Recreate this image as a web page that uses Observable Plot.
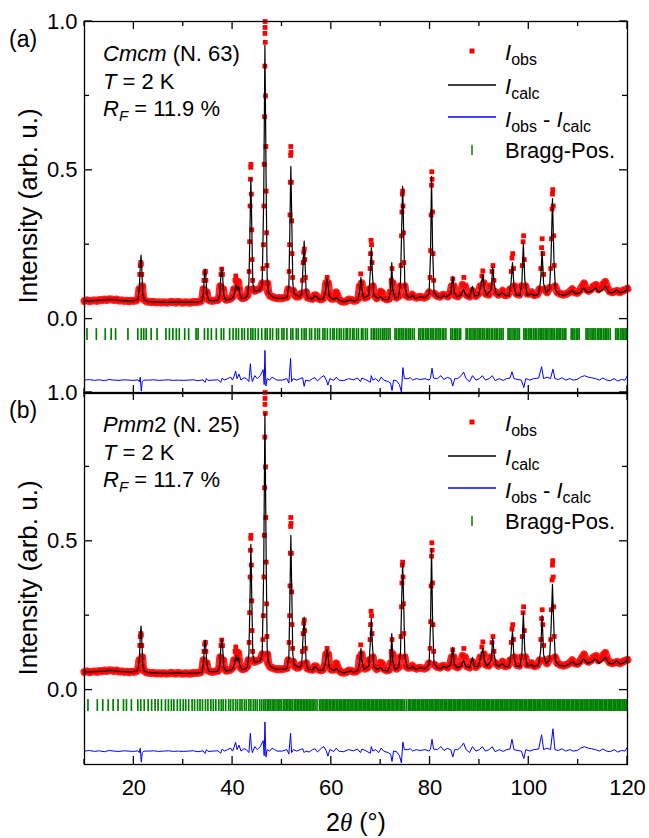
<!DOCTYPE html>
<html><head><meta charset="utf-8">
<script src="https://cdn.jsdelivr.net/npm/d3@7"></script>
<script src="https://cdn.jsdelivr.net/npm/@observablehq/plot@0.6"></script>
<style>
body{margin:0;background:#fff;}
#wrap{position:relative;width:649px;height:838px;font-family:"Liberation Sans",Arial,sans-serif;overflow:hidden;}
#wrap svg{position:absolute;left:0;overflow:visible;}
.ylab{position:absolute;left:28px;font-size:26px;white-space:nowrap;transform:translate(-50%,-50%) rotate(-90deg);}
.xlab{position:absolute;left:356px;top:822px;font-size:25px;white-space:nowrap;transform:translate(-50%,-50%);}
</style></head><body><div id="wrap"></div>
<script>
// ---------------- data ----------------
const xTicksMajor = [20, 40, 60, 80, 100, 120];
const xTicksMinor = [10, 30, 50, 70, 90, 110];
const yTicksMajor = [0, 0.5, 1.0];
const yTicksMinor = [0.25, 0.75];

// calculated profile, panel (a)
const calcA = [[10,0.062],[11,0.061],[12,0.062],[13,0.063],[14,0.064],[15,0.066],[16,0.065],[17,0.063],[18,0.062],[19,0.061],[20,0.062],[20.8,0.066],[21.1,0.10],[21.3,0.18],[21.45,0.215],[21.6,0.17],[21.8,0.09],[22.1,0.064],[23,0.059],[24,0.058],[25,0.057],[26,0.056],[27,0.056],[28,0.057],[29,0.058],[30,0.056],[31,0.056],[32,0.057],[33,0.058],[33.8,0.060],[34.1,0.09],[34.3,0.15],[34.45,0.168],[34.6,0.14],[34.8,0.085],[35.2,0.063],[36,0.062],[37,0.063],[37.4,0.08],[37.6,0.14],[37.8,0.172],[38.0,0.14],[38.2,0.08],[38.6,0.064],[39.4,0.066],[40.0,0.07],[40.4,0.09],[40.7,0.115],[40.9,0.10],[41.2,0.11],[41.4,0.09],[41.8,0.07],[42.5,0.07],[43.0,0.078],[43.3,0.12],[43.5,0.28],[43.7,0.473],[43.9,0.30],[44.1,0.12],[44.4,0.095],[45,0.095],[45.6,0.098],[46.0,0.12],[46.3,0.40],[46.55,0.92],[46.8,0.45],[47.0,0.14],[47.3,0.09],[48,0.075],[49,0.07],[50,0.07],[51,0.072],[51.4,0.11],[51.6,0.30],[51.8,0.513],[52.0,0.32],[52.2,0.12],[52.5,0.085],[53.5,0.075],[54.0,0.085],[54.3,0.19],[54.5,0.262],[54.7,0.18],[54.9,0.09],[55.3,0.07],[56.2,0.068],[56.6,0.078],[57.0,0.075],[57.5,0.066],[58.3,0.067],[58.8,0.09],[59.1,0.135],[59.3,0.12],[59.6,0.075],[60.5,0.066],[61.0,0.072],[61.5,0.064],[62.5,0.058],[63.5,0.062],[64.0,0.064],[64.5,0.06],[65.4,0.065],[65.8,0.10],[66.0,0.14],[66.2,0.10],[66.6,0.07],[67.6,0.08],[67.9,0.16],[68.1,0.24],[68.3,0.16],[68.6,0.08],[69.3,0.07],[70.0,0.075],[70.5,0.066],[71.5,0.065],[72.0,0.09],[72.25,0.19],[72.45,0.10],[72.9,0.07],[73.6,0.075],[74.0,0.12],[74.25,0.30],[74.45,0.446],[74.65,0.30],[74.9,0.11],[75.4,0.075],[76,0.072],[76.5,0.08],[77,0.07],[78,0.075],[79,0.072],[79.8,0.085],[80.1,0.22],[80.3,0.48],[80.5,0.25],[80.8,0.09],[81.5,0.075],[82.2,0.072],[82.8,0.08],[83.3,0.074],[84.2,0.085],[84.6,0.144],[84.9,0.09],[85.5,0.075],[86.3,0.08],[86.8,0.10],[87.2,0.08],[88.0,0.075],[88.6,0.11],[89.0,0.078],[89.8,0.08],[90.4,0.12],[90.7,0.15],[91.0,0.10],[91.5,0.08],[92.4,0.10],[92.7,0.175],[93.0,0.12],[93.4,0.085],[94.0,0.08],[94.6,0.09],[95.3,0.078],[96.0,0.08],[96.4,0.12],[96.7,0.19],[97.0,0.11],[97.5,0.08],[98.2,0.08],[98.6,0.12],[98.9,0.255],[99.2,0.13],[99.7,0.08],[100.5,0.085],[101.2,0.078],[102.0,0.085],[102.4,0.13],[102.7,0.228],[103.0,0.12],[103.5,0.09],[104.2,0.10],[104.5,0.20],[104.8,0.405],[105.1,0.20],[105.4,0.10],[106,0.085],[107,0.08],[108,0.085],[108.8,0.095],[109.5,0.085],[110.5,0.09],[111.1,0.105],[111.8,0.09],[112.8,0.095],[113.5,0.105],[114.2,0.09],[115.0,0.10],[115.5,0.11],[116.2,0.09],[117.0,0.088],[117.8,0.098],[118.5,0.088],[119.3,0.092],[120,0.10]];

// peak tops of the calculated profile that differ in panel (b)
const calcBTops = [[43.7,0.49],[46.55,0.93],[51.8,0.52],[54.5,0.245],[74.45,0.425],[80.3,0.475],[90.7,0.14],[96.7,0.20],[98.9,0.26],[102.7,0.25],[104.8,0.355]];

// observed points (same measurement in both panels)
const obs = [[10,0.061],[10.5,0.063],[11,0.060],[11.5,0.062],[12,0.063],[12.5,0.061],[13,0.064],[13.5,0.063],[14,0.066],[14.5,0.064],[15,0.067],[15.5,0.066],[16,0.064],[16.5,0.066],[17,0.062],[17.5,0.063],[18,0.061],[18.5,0.062],[19,0.060],[19.5,0.062],[20,0.061],[20.5,0.063],[20.9,0.07],[21.1,0.10],[21.2,0.15],[21.3,0.18],[21.4,0.19],[21.5,0.185],[21.6,0.15],[21.7,0.11],[21.8,0.08],[22.0,0.066],[22.5,0.060],[23,0.058],[23.5,0.057],[24,0.058],[24.5,0.056],[25,0.057],[25.5,0.055],[26,0.057],[26.5,0.055],[27,0.056],[27.5,0.058],[28,0.057],[28.5,0.055],[29,0.058],[29.5,0.056],[30,0.055],[30.5,0.057],[31,0.056],[31.5,0.055],[32,0.058],[32.5,0.057],[33,0.058],[33.5,0.059],[33.9,0.07],[34.1,0.10],[34.2,0.13],[34.35,0.155],[34.5,0.16],[34.6,0.13],[34.75,0.09],[35.0,0.066],[35.5,0.062],[36,0.061],[36.5,0.063],[37,0.064],[37.3,0.075],[37.5,0.11],[37.65,0.15],[37.8,0.168],[37.95,0.15],[38.1,0.10],[38.3,0.072],[38.7,0.065],[39,0.066],[39.5,0.068],[40,0.075],[40.3,0.10],[40.5,0.13],[40.65,0.145],[40.8,0.13],[41.0,0.12],[41.15,0.125],[41.3,0.10],[41.6,0.075],[42,0.07],[42.5,0.072],[43.0,0.08],[43.2,0.10],[43.35,0.16],[43.45,0.26],[43.55,0.38],[43.62,0.47],[43.68,0.51],[43.72,0.52],[43.8,0.42],[43.88,0.3],[43.95,0.2],[44.05,0.13],[44.2,0.10],[44.5,0.095],[44.9,0.098],[45.3,0.10],[45.7,0.105],[46.0,0.12],[46.15,0.17],[46.25,0.25],[46.35,0.38],[46.42,0.52],[46.48,0.68],[46.53,0.85],[46.56,0.96],[46.58,0.98],[46.6,1.0],[46.62,0.93],[46.68,0.75],[46.74,0.58],[46.8,0.43],[46.88,0.29],[46.96,0.18],[47.05,0.12],[47.2,0.09],[47.6,0.078],[48,0.075],[48.5,0.072],[49,0.07],[49.5,0.071],[50,0.07],[50.5,0.072],[51,0.074],[51.3,0.10],[51.45,0.16],[51.55,0.25],[51.63,0.35],[51.7,0.46],[51.76,0.55],[51.8,0.58],[51.84,0.56],[51.9,0.46],[51.97,0.33],[52.05,0.22],[52.15,0.14],[52.3,0.095],[52.6,0.08],[53,0.075],[53.5,0.076],[53.9,0.085],[54.15,0.13],[54.3,0.19],[54.42,0.225],[54.52,0.235],[54.62,0.2],[54.75,0.14],[54.9,0.09],[55.2,0.072],[55.7,0.07],[56.2,0.068],[56.6,0.08],[56.9,0.08],[57.3,0.07],[57.8,0.066],[58.3,0.068],[58.7,0.085],[58.95,0.12],[59.15,0.14],[59.35,0.12],[59.6,0.08],[60,0.068],[60.5,0.068],[60.8,0.08],[61.0,0.09],[61.2,0.08],[61.6,0.066],[62,0.06],[62.5,0.058],[63,0.06],[63.5,0.066],[64,0.065],[64.5,0.062],[65,0.062],[65.5,0.07],[65.75,0.11],[65.95,0.152],[66.15,0.12],[66.4,0.08],[66.8,0.072],[67.3,0.075],[67.7,0.10],[67.85,0.17],[67.95,0.22],[68.05,0.265],[68.15,0.25],[68.25,0.19],[68.4,0.11],[68.7,0.08],[69.2,0.07],[69.7,0.078],[70.0,0.092],[70.3,0.088],[70.7,0.07],[71.2,0.066],[71.7,0.068],[72.0,0.09],[72.15,0.13],[72.3,0.17],[72.45,0.12],[72.7,0.08],[73.2,0.072],[73.7,0.078],[74.0,0.11],[74.12,0.18],[74.22,0.28],[74.3,0.36],[74.38,0.42],[74.45,0.43],[74.52,0.38],[74.6,0.29],[74.7,0.19],[74.85,0.11],[75.1,0.08],[75.6,0.075],[76,0.076],[76.4,0.082],[76.8,0.075],[77.3,0.072],[77.8,0.075],[78.3,0.074],[78.8,0.072],[79.3,0.075],[79.8,0.09],[80.0,0.14],[80.12,0.23],[80.22,0.35],[80.3,0.45],[80.36,0.495],[80.42,0.47],[80.5,0.36],[80.6,0.22],[80.72,0.13],[80.9,0.085],[81.4,0.078],[82,0.075],[82.6,0.082],[83.1,0.08],[83.6,0.076],[84.1,0.088],[84.4,0.11],[84.6,0.135],[84.8,0.11],[85.1,0.08],[85.6,0.076],[86.2,0.085],[86.6,0.115],[86.85,0.14],[87.1,0.11],[87.5,0.08],[88,0.076],[88.5,0.095],[88.8,0.09],[89.3,0.078],[89.8,0.085],[90.2,0.11],[90.5,0.145],[90.7,0.162],[90.9,0.12],[91.3,0.085],[91.9,0.082],[92.3,0.11],[92.55,0.16],[92.75,0.18],[92.95,0.13],[93.3,0.09],[93.8,0.082],[94.3,0.085],[94.7,0.095],[95.2,0.08],[95.8,0.082],[96.2,0.1],[96.45,0.16],[96.6,0.205],[96.75,0.22],[96.9,0.17],[97.1,0.11],[97.5,0.085],[98.1,0.082],[98.5,0.11],[98.7,0.18],[98.85,0.26],[98.95,0.28],[99.1,0.2],[99.3,0.11],[99.7,0.085],[100.2,0.085],[100.6,0.09],[101.1,0.08],[101.7,0.083],[102.2,0.10],[102.45,0.17],[102.6,0.24],[102.72,0.27],[102.85,0.22],[103.0,0.15],[103.2,0.10],[103.7,0.09],[104.2,0.105],[104.45,0.17],[104.6,0.27],[104.72,0.37],[104.8,0.42],[104.86,0.435],[104.95,0.38],[105.05,0.28],[105.15,0.18],[105.35,0.11],[105.8,0.09],[106.4,0.085],[107,0.082],[107.6,0.085],[108.2,0.09],[108.8,0.1],[109.3,0.09],[109.8,0.088],[110.3,0.095],[110.8,0.11],[111.2,0.12],[111.6,0.1],[112.1,0.095],[112.6,0.1],[113.1,0.11],[113.6,0.115],[114.1,0.1],[114.6,0.105],[115.1,0.118],[115.5,0.125],[115.9,0.105],[116.4,0.093],[116.9,0.09],[117.4,0.092],[117.9,0.095],[118.4,0.09],[118.9,0.094],[119.4,0.098],[120,0.102]];

// difference curve, panel (a)
const diffA = [[10,-0.205],[11,-0.203],[12,-0.206],[13,-0.204],[14,-0.207],[15,-0.203],[16,-0.205],[17,-0.206],[18,-0.204],[19,-0.205],[20,-0.206],[20.8,-0.204],[21.1,-0.21],[21.3,-0.195],[21.5,-0.242],[21.7,-0.21],[22,-0.205],[23,-0.205],[24,-0.204],[25,-0.206],[26,-0.205],[27,-0.204],[28,-0.206],[29,-0.205],[30,-0.206],[31,-0.205],[32,-0.204],[33,-0.207],[34,-0.204],[34.4,-0.213],[34.7,-0.2],[35,-0.206],[36,-0.205],[37,-0.204],[37.6,-0.212],[37.9,-0.198],[38.3,-0.205],[39,-0.2],[39.6,-0.195],[40,-0.205],[40.3,-0.192],[40.6,-0.175],[40.9,-0.2],[41.3,-0.185],[41.7,-0.205],[42.3,-0.197],[42.8,-0.2],[43.3,-0.21],[43.6,-0.15],[43.8,-0.19],[44.0,-0.21],[44.5,-0.19],[45,-0.2],[45.6,-0.19],[46.2,-0.17],[46.4,-0.22],[46.55,-0.105],[46.75,-0.225],[47.0,-0.2],[47.5,-0.205],[48,-0.195],[48.5,-0.2],[49,-0.205],[50,-0.205],[51,-0.2],[51.4,-0.215],[51.75,-0.132],[51.95,-0.21],[52.3,-0.2],[53,-0.205],[53.7,-0.2],[54.2,-0.197],[54.5,-0.226],[54.8,-0.205],[55.5,-0.208],[56.2,-0.2],[56.7,-0.197],[57.2,-0.208],[58.0,-0.195],[58.5,-0.19],[59.0,-0.205],[59.3,-0.222],[59.7,-0.2],[60.5,-0.206],[61.0,-0.195],[61.5,-0.205],[62.5,-0.207],[63.5,-0.2],[64.5,-0.204],[65.3,-0.198],[65.9,-0.21],[66.2,-0.198],[67,-0.204],[67.9,-0.212],[68.1,-0.19],[68.4,-0.205],[69,-0.2],[69.6,-0.21],[70.1,-0.195],[70.6,-0.205],[71.5,-0.21],[72.0,-0.215],[72.3,-0.24],[72.6,-0.205],[73.2,-0.207],[73.8,-0.22],[74.2,-0.245],[74.5,-0.163],[74.8,-0.2],[75.5,-0.2],[76.0,-0.197],[76.5,-0.205],[77.2,-0.2],[78,-0.203],[79,-0.2],[79.8,-0.205],[80.1,-0.198],[80.4,-0.165],[80.7,-0.198],[81.5,-0.2],[82.2,-0.19],[82.8,-0.203],[83.5,-0.196],[84.2,-0.2],[84.6,-0.225],[85.0,-0.2],[85.6,-0.2],[86.3,-0.19],[86.8,-0.178],[87.3,-0.2],[88,-0.21],[88.6,-0.19],[89.3,-0.205],[90,-0.2],[90.6,-0.19],[91.2,-0.205],[92,-0.2],[92.6,-0.19],[93.2,-0.207],[94,-0.2],[94.8,-0.206],[95.5,-0.2],[96.2,-0.198],[96.6,-0.177],[97.0,-0.2],[97.8,-0.203],[98.5,-0.205],[99.0,-0.23],[99.4,-0.2],[100.2,-0.205],[101,-0.2],[102,-0.198],[102.6,-0.16],[103.0,-0.2],[103.7,-0.195],[104.4,-0.2],[104.9,-0.168],[105.3,-0.2],[106,-0.203],[106.7,-0.197],[107.5,-0.205],[108.3,-0.2],[109,-0.205],[109.8,-0.203],[110.5,-0.195],[111.3,-0.19],[112,-0.195],[112.7,-0.197],[113.5,-0.2],[114.3,-0.205],[115,-0.198],[115.8,-0.205],[116.5,-0.207],[117.3,-0.2],[118,-0.208],[118.8,-0.203],[119.5,-0.205],[120,-0.19]];

// points of the difference curve that differ in panel (b)
const diffBPoints = [[43.6,-0.145],[46.55,-0.107],[51.75,-0.145],[54.5,-0.21],[74.5,-0.175],[96.6,-0.165],[102.6,-0.15],[104.9,-0.13]];

// Bragg positions (2theta)
const braggA = [10.5,12.4,14.2,15.4,16.3,18.8,20.8,21.5,22.0,22.5,23.5,24.7,26.5,27.2,27.9,28.6,29.2,30.3,31.1,32.6,33.0,34.3,35.0,35.7,36.7,37.7,38.2,39.4,40.1,40.7,41.2,41.9,42.4,43.1,43.7,44.1,44.6,45.2,45.9,46.6,47.0,47.6,48.1,48.9,49.3,50.0,50.4,51.0,51.8,52.2,52.9,53.3,54.0,54.5,54.9,55.6,56.0,56.7,57.2,57.6,58.3,58.7,59.2,59.8,60.3,60.6,61.1,61.6,62.0,62.5,63.0,63.3,63.8,64.3,64.6,65.1,65.5,66.1,66.4,66.9,67.3,68.1,68.5,68.8,69.2,69.6,70.0,70.4,70.7,71.1,71.5,71.9,72.9,73.2,73.6,73.9,74.3,74.6,75.0,75.3,75.7,76.0,76.4,76.8,77.7,78.0,78.4,78.7,79.1,79.4,79.7,80.1,80.4,80.7,81.1,81.4,81.8,82.1,82.5,82.8,83.2,84.2,84.5,84.9,85.2,85.5,85.9,86.2,87.3,87.6,88.0,88.3,88.7,89.0,89.3,89.7,90.0,90.3,90.7,91.0,91.4,91.7,92.0,92.4,92.7,93.1,93.4,93.7,94.1,94.4,94.8,95.8,96.1,96.4,96.8,97.1,97.4,97.8,98.1,99.0,99.3,99.6,100.0,100.3,100.6,101.0,101.3,101.6,102.0,102.3,102.6,102.9,103.3,103.6,103.9,104.3,104.6,104.9,105.2,105.6,105.9,106.2,106.5,106.9,107.2,107.5,108.6,108.9,109.2,109.6,109.9,110.2,111.6,111.9,112.2,112.6,112.9,113.2,113.5,113.9,114.2,114.5,114.8,115.2,115.5,115.8,116.1,116.5,117.6,117.9,118.2,118.6,118.9,119.2,119.5,119.8];
const braggB = [10.7,12.6,13.7,14.8,15.8,16.8,17.9,18.5,19.5,20.8,21.4,22.1,22.9,23.6,24.3,24.9,25.6,26.4,27.0,27.6,28.1,28.8,29.4,30.0,30.5,31.1,31.8,32.3,32.9,33.4,33.9,34.5,35.0,35.6,36.1,36.6,37.2,37.7,38.1,38.6,39.2,39.6,40.1,40.6,41.0,41.5,41.9,42.4,42.8,43.3,43.7,44.2,44.6,45.0,45.5,45.9,46.3,46.6,47.0,47.3,47.6,48.0,48.3,48.6,49.0,49.3,49.6,49.9,50.3,50.6,50.9,51.2,51.5,51.8,52.1,52.5,52.8,53.1,53.4,53.7,54.0,54.3,54.6,54.9,55.2,55.5,55.8,56.1,56.4,56.7,57.1,57.6,57.9,58.2,58.5,58.8,59.0,59.3,59.6,59.9,60.2,60.4,60.7,61.0,61.3,61.6,61.8,62.1,62.4,62.7,62.9,63.2,63.5,63.8,64.0,64.3,64.6,64.9,65.1,65.4,65.7,65.9,66.2,66.5,66.8,67.0,67.3,67.6,67.8,68.1,68.4,68.6,68.9,69.2,69.4,69.7,70.0,70.2,70.5,70.8,71.0,71.3,71.6,71.8,72.1,72.4,72.6,72.9,73.2,73.4,73.7,74.0,74.2,74.5,74.8,75.2,75.6,75.8,76.1,76.4,76.6,76.9,77.1,77.4,77.7,77.9,78.2,78.5,78.7,79.0,79.2,79.5,79.8,80.0,80.3,80.5,80.8,81.1,81.3,81.6,81.8,82.1,82.4,82.6,82.9,83.1,83.4,83.7,83.9,84.2,84.4,84.7,84.9,85.2,85.5,85.7,86.0,86.2,86.5,86.7,87.0,87.3,87.5,87.8,88.0,88.3,88.5,88.8,89.1,89.3,89.6,89.8,90.1,90.3,90.6,90.9,91.1,91.4,91.6,91.9,92.1,92.4,92.7,92.9,93.2,93.4,93.7,93.9,94.2,94.5,94.7,95.0,95.2,95.5,95.7,96.0,96.3,96.5,96.8,97.0,97.3,97.5,97.8,98.1,98.3,98.6,98.8,99.1,99.3,99.6,99.9,100.1,100.4,100.6,100.9,101.1,101.4,101.7,101.9,102.2,102.4,102.7,102.9,103.2,103.5,103.7,104.0,104.2,104.5,104.7,105.0,105.3,105.5,105.8,106.0,106.3,106.5,106.8,107.1,107.3,107.6,107.8,108.1,108.3,108.6,108.9,109.1,109.4,109.6,109.9,110.1,110.4,110.7,110.9,111.2,111.4,111.7,111.9,112.2,112.5,112.7,113.0,113.2,113.5,113.7,114.0,114.3,114.5,114.8,115.0,115.3,115.5,115.8,116.1,116.3,116.6,116.8,117.1,117.3,117.6,117.9,118.1,118.4,118.6,118.9,119.1,119.4,119.7,119.9];

const panelLabels = ["(a)", "(b)"];
const groups = [["Cmcm", ""], ["Pmm", "2"]];
const groupNumbers = ["63", "25"];
const temperatures = ["2 K", "2 K"];
const rFactors = ["11.9", "11.7"];

// ---------------- build ----------------
const calcB = calcA.map(([x, y]) => { const o = calcBTops.find(t => t[0] === x); return [x, o ? o[1] : y]; });
const diffB = diffA.map(([x, y]) => { const o = diffBPoints.find(t => t[0] === x); return [x, o ? o[1] : y]; });

const FONT = '"Liberation Sans", Arial, sans-serif';
const RED = "#ff0000", BLUE = "#0000ff", GREEN = "#008000";
const wrap = document.getElementById("wrap");

function panel({calc, diff, bragg, top, mTop, mBottom, bottomLabels, idx}) {
  const frameH = 372;
  const marks = [
    Plot.line(obs, {x: d => d[0], y: d => d[1] < 0.13 ? d[1] : NaN, stroke: RED, strokeWidth: 8, strokeOpacity: 0.85}),
    Plot.dot(obs, {x: d => d[0], y: d => d[1], symbol: "square", r: 2.7, fill: RED, stroke: "none"}),
    Plot.line(calc, {x: d => d[0], y: d => d[1], stroke: "black", strokeWidth: 1.2}),
    Plot.ruleX(bragg, {x: d => d, y1: -0.032, y2: -0.072, stroke: GREEN, strokeWidth: 1.7}),
    Plot.line(diff, {x: d => d[0], y: d => d[1], stroke: BLUE, strokeWidth: 1}),
    Plot.frame({stroke: "black", strokeWidth: 1.3}),
    Plot.axisY(yTicksMajor, {anchor: "left", tickSize: 0, tickPadding: 7, tickFormat: d3.format(".1f"), fontSize: 22, label: null})
  ];
  if (bottomLabels) marks.push(Plot.axisX(xTicksMajor, {anchor: "bottom", tickSize: 0, tickPadding: 15, fontSize: 22, label: null}));
  const svg = Plot.plot({
    width: 649, height: mTop + frameH + mBottom,
    marginLeft: 84, marginRight: 22, marginTop: mTop, marginBottom: mBottom,
    style: {fontFamily: FONT, fontSize: "22px", color: "black", background: "transparent", overflow: "visible"},
    x: {domain: [10, 120], axis: bottomLabels ? undefined : null},
    y: {domain: [-0.25, 1.0]},
    marks
  });
  svg.style.top = top + "px";
  wrap.appendChild(svg);

  const s = d3.select(svg);
  // inward ticks on all four sides, placed with the plot's own scales
  const xs = svg.scale("x"), ys = svg.scale("y");
  const fl = 84, fr = 649 - 22, ftp = mTop, fb = mTop + frameH;
  const tg = s.append("g").attr("stroke", "black").attr("stroke-width", 1.3);
  const xt = (v, len) => {
    const p = xs.apply(v);
    tg.append("line").attr("x1", p).attr("x2", p).attr("y1", fb).attr("y2", fb - len);
    tg.append("line").attr("x1", p).attr("x2", p).attr("y1", ftp).attr("y2", ftp + len);
  };
  const yt = (v, len) => {
    const p = ys.apply(v);
    tg.append("line").attr("x1", fl).attr("x2", fl + len).attr("y1", p).attr("y2", p);
    tg.append("line").attr("x1", fr).attr("x2", fr - len).attr("y1", p).attr("y2", p);
  };
  xTicksMajor.forEach(v => xt(v, 8));
  xTicksMinor.forEach(v => xt(v, 5));
  yTicksMajor.forEach(v => yt(v, 8));
  yTicksMinor.forEach(v => yt(v, 5));

  // annotations & legend
  const g = s.append("g").attr("font-family", FONT).attr("fill", "black").attr("text-anchor", "start");
  const ft = mTop; // frame top
  g.append("text").attr("x", 9).attr("y", ft + 26).attr("font-size", 23).text(panelLabels[idx]);
  const t1 = g.append("text").attr("x", 103).attr("y", ft + 40).attr("font-size", 22);
  t1.append("tspan").attr("font-style", "italic").text(groups[idx][0]);
  t1.append("tspan").text(groups[idx][1] + " (N. " + groupNumbers[idx] + ")");
  const t2 = g.append("text").attr("x", 103).attr("y", ft + 68).attr("font-size", 22);
  t2.append("tspan").attr("font-style", "italic").text("T");
  t2.append("tspan").text(" = " + temperatures[idx]);
  const t3 = g.append("text").attr("x", 103).attr("y", ft + 95).attr("font-size", 22);
  t3.append("tspan").attr("font-style", "italic").text("R");
  t3.append("tspan").attr("font-style", "italic").attr("font-size", 15).attr("dy", 5).text("F");
  t3.append("tspan").attr("dy", -5).text(" = " + rFactors[idx] + " %");

  // legend
  const lx = 505;
  g.append("rect").attr("x", 469.5).attr("y", ft + 27.5).attr("width", 5).attr("height", 5).attr("fill", RED);
  const l1 = g.append("text").attr("x", lx).attr("y", ft + 39).attr("font-size", 22);
  l1.append("tspan").attr("font-style", "italic").text("I");
  l1.append("tspan").attr("font-size", 16).attr("dy", 5).text("obs");
  g.append("line").attr("x1", 448).attr("x2", 496).attr("y1", ft + 64).attr("y2", ft + 64).attr("stroke", "black").attr("stroke-width", 1.5);
  const l2 = g.append("text").attr("x", lx).attr("y", ft + 73).attr("font-size", 22);
  l2.append("tspan").attr("font-style", "italic").text("I");
  l2.append("tspan").attr("font-size", 16).attr("dy", 5).text("calc");
  g.append("line").attr("x1", 448).attr("x2", 496).attr("y1", ft + 96).attr("y2", ft + 96).attr("stroke", BLUE).attr("stroke-width", 1.5);
  const l3 = g.append("text").attr("x", lx).attr("y", ft + 106).attr("font-size", 22);
  l3.append("tspan").attr("font-style", "italic").text("I");
  l3.append("tspan").attr("font-size", 16).attr("dy", 5).text("obs");
  l3.append("tspan").attr("dy", -5).text(" - ");
  l3.append("tspan").attr("font-style", "italic").text("I");
  l3.append("tspan").attr("font-size", 16).attr("dy", 5).text("calc");
  g.append("line").attr("x1", 472).attr("x2", 472).attr("y1", ft + 124).attr("y2", ft + 134).attr("stroke", GREEN).attr("stroke-width", 1.5);
  g.append("text").attr("x", lx).attr("y", ft + 137).attr("font-size", 22).text("Bragg-Pos.");
}

panel({calc: calcA, diff: diffA, bragg: braggA, top: 0, mTop: 21, mBottom: 0, bottomLabels: false, idx: 0});
panel({calc: calcB, diff: diffB, bragg: braggB, top: 372, mTop: 20, mBottom: 74, bottomLabels: true, idx: 1});

// axis titles
["206px", "578px"].forEach(t => {
  const d = document.createElement("div");
  d.className = "ylab"; d.style.top = t; d.textContent = "Intensity (arb. u.)";
  wrap.appendChild(d);
});
const xl = document.createElement("div");
xl.className = "xlab";
xl.innerHTML = '2<span style="font-family:\'Liberation Serif\',serif;font-style:italic">θ</span> (°)';
wrap.appendChild(xl);
</script></body></html>
